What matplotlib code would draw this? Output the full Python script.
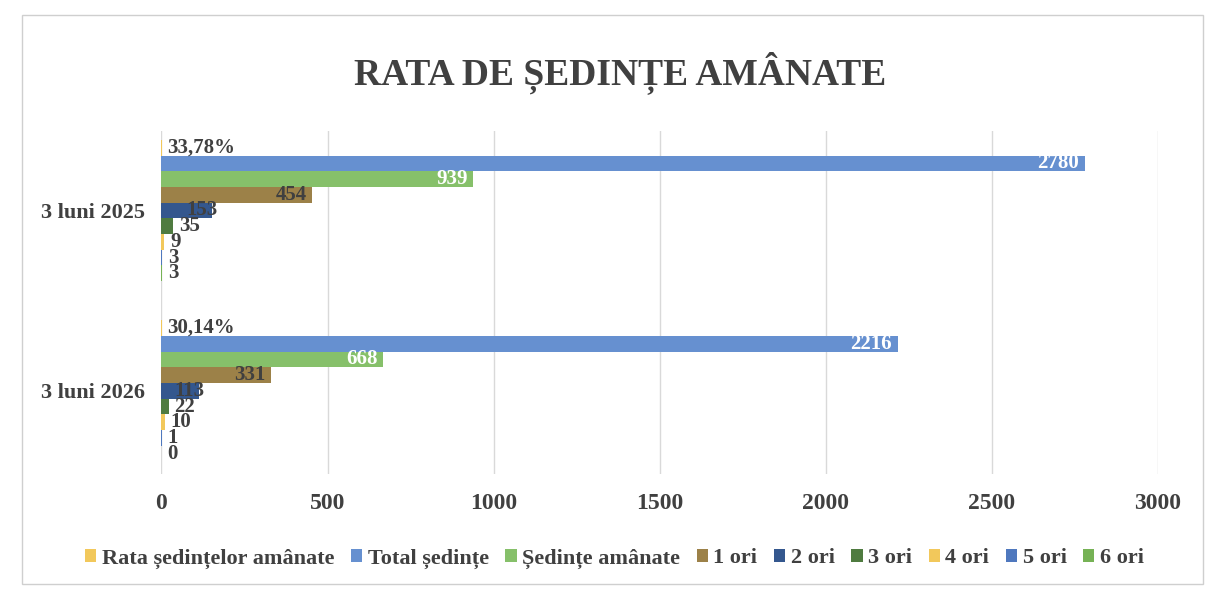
import matplotlib
matplotlib.use("Agg")
import matplotlib.pyplot as plt
from matplotlib.patches import Rectangle
import numpy as np

plt.rcParams["font.family"] = ["Liberation Serif", "DejaVu Serif"]
plt.rcParams["font.weight"] = "bold"

categories = ["3 luni 2025", "3 luni 2026"]
series_names = ["Rata ședințelor amânate", "Total ședințe", "Ședințe amânate",
                "1 ori", "2 ori", "3 ori", "4 ori", "5 ori", "6 ori"]
values_2025 = [0.3378, 2780, 939, 454, 153, 35, 9, 3, 3]
values_2026 = [0.3014, 2216, 668, 331, 113, 22, 10, 1, 0]
labels_2025 = ["33,78%", "2780", "939", "454", "153", "35", "9", "3", "3"]
labels_2026 = ["30,14%", "2216", "668", "331", "113", "22", "10", "1", "0"]

colors = ["#F2C85B", "#6690D0", "#86C06A", "#9C8148", "#34578E",
          "#4F7B40", "#F2C85B", "#4F78BE", "#76B255"]
# label placement per series
placement = ["out", "in", "in", "in", "in2", "out", "out", "out", "out"]
label_colors = ["#404040", "white", "white", "#404040", "#404040",
                "#404040", "#404040", "#404040", "#404040"]

TEXT = "#404040"

fig = plt.figure(figsize=(12.05, 5.96), dpi=100)
fig.patches.append(Rectangle((0.018, 0.02), 0.98, 0.955, transform=fig.transFigure,
                             fill=False, edgecolor="#cfcfcf", linewidth=1.0))
ax = fig.add_axes([0.134, 0.205, 0.827, 0.575])

h = 0.087
n = len(series_names)
data = [values_2025, values_2026]
texts = [labels_2025, labels_2026]

for i, name in enumerate(series_names):
    ys = [c + (i - (n - 1) / 2) * h for c in range(len(categories))]
    vals = [data[c][i] for c in range(len(categories))]
    ax.barh(ys, vals, height=h, color=colors[i], label=name, zorder=3)
    for c in range(len(categories)):
        v = vals[c]
        t = texts[c][i]
        if placement[i] == "out":
            off, ha = 4, "left"
        elif placement[i] == "in2":
            off, ha = 4, "right"
        else:
            off, ha = -4, "right"
        ax.annotate(t, (v, ys[c]), xytext=(off, 0), textcoords="offset points",
                    ha=ha, va="center", fontsize=15, color=label_colors[i],
                    fontweight="bold", zorder=4)

ax.set_xlim(0, 3000)
ax.set_xticks(np.arange(0, 3001, 500))
ax.set_ylim(1.46, -0.44)
ax.set_yticks(range(len(categories)))
ax.set_yticklabels(categories)
ax.tick_params(axis="x", length=0, labelsize=17, colors=TEXT, pad=14)
ax.tick_params(axis="y", length=0, labelsize=16, colors=TEXT, pad=12)
ax.grid(True, axis="x", color="#d9d9d9", linewidth=1.0, zorder=0)
for s in ax.spines.values():
    s.set_visible(False)

fig.suptitle("RATA DE ȘEDINȚE AMÂNATE", x=0.515, y=0.915, fontsize=27,
             fontweight="bold", color="#404040")

handles, labels = ax.get_legend_handles_labels()
fig.legend(handles, labels, loc="center", bbox_to_anchor=(0.51, 0.063), ncol=9,
           frameon=False, fontsize=16, handlelength=0.5, handleheight=0.5,
           handletextpad=0.25, columnspacing=0.75, labelcolor=TEXT)

plt.savefig("out.png", dpi=100)
plt.close(fig)
